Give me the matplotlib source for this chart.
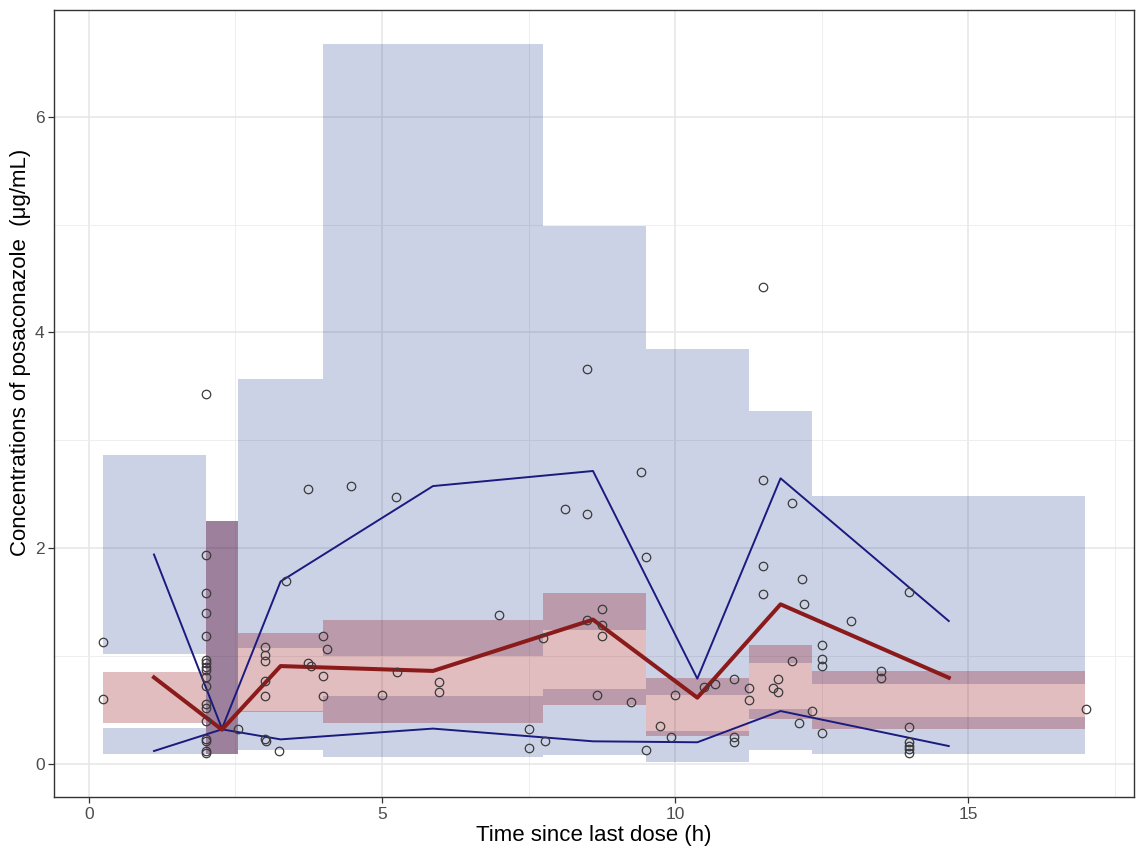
import matplotlib
matplotlib.use("Agg")
import matplotlib.pyplot as plt
from matplotlib.patches import Rectangle
from matplotlib.ticker import MultipleLocator

plt.rcParams['font.family'] = ['Liberation Sans', 'DejaVu Sans']

# ---- data ----
bin_edges = [0.24, 2.0, 2.55, 4.0, 7.75, 9.5, 11.26, 12.34, 17.0]
ci_p95_lo = [1.02, 0.087, 1.07, 0.995, 1.237, 0.637, 0.933, 0.736]
ci_p95_hi = [2.86, 2.25, 3.57, 6.68, 4.99, 3.85, 3.27, 2.48]
ci_p50_lo = [0.38, 0.087, 0.48, 0.377, 0.541, 0.256, 0.414, 0.325]
ci_p50_hi = [0.85, 2.25, 1.215, 1.336, 1.583, 0.791, 1.097, 0.859]
ci_p05_lo = [0.087, 0.087, 0.124, 0.061, 0.083, 0.019, 0.123, 0.086]
ci_p05_hi = [0.33, 2.25, 0.49, 0.627, 0.696, 0.302, 0.51, 0.432]

obs_bin_x = [1.11, 2.27, 3.27, 5.87, 8.6, 10.38, 11.8, 14.67]
obs_p50 = [0.80, 0.315, 0.905, 0.86, 1.336, 0.612, 1.478, 0.797]
obs_p95 = [1.94, 0.325, 1.69, 2.575, 2.715, 0.788, 2.647, 1.323]
obs_p05 = [0.117, 0.318, 0.225, 0.325, 0.207, 0.198, 0.488, 0.163]

obs_time = [0.24, 0.24,
            2.0, 2.0, 2.0, 2.0, 2.0, 2.0, 2.0, 2.0, 2.0, 2.0, 2.0, 2.0, 2.0, 2.0, 2.0, 2.0, 2.0, 2.0,
            2.55,
            3.0, 3.0, 3.0, 3.0, 3.0, 3.0, 3.02, 3.24, 3.37,
            3.74, 3.79, 3.74, 4.0, 4.07, 4.0, 4.0, 4.47,
            5.0, 5.25, 5.24, 5.97, 5.97,
            7.0, 7.5, 7.5, 7.75, 7.78, 8.13, 8.5, 8.5, 8.49,
            8.75, 8.75, 8.75, 8.66, 9.25, 9.42, 9.5, 9.5,
            9.75, 9.93, 10.0, 10.5, 10.68, 11.0, 11.0, 11.0, 11.26, 11.26,
            11.5, 11.5, 11.5, 11.5, 11.67, 11.76, 11.76, 12.0, 12.0, 12.12,
            12.17, 12.2, 12.33, 12.5, 12.5, 12.5, 12.5, 13.0, 13.51, 13.51,
            14.0, 14.0, 14.0, 14.0, 14.0, 14.0, 17.01]
obs_conc = [1.13, 0.60,
            3.43, 1.94, 1.58, 1.40, 1.18, 0.96, 0.93, 0.90, 0.87, 0.80, 0.72, 0.55, 0.52, 0.40,
            0.23, 0.21, 0.12, 0.10,
            0.32,
            1.08, 1.01, 0.95, 0.77, 0.63, 0.225, 0.213, 0.12, 1.69,
            2.545, 0.91, 0.935, 1.18, 1.06, 0.81, 0.63, 2.575,
            0.64, 0.85, 2.475, 0.757, 0.66,
            1.38, 0.318, 0.148, 1.165, 0.21, 2.36, 3.66, 2.32, 1.336,
            1.43, 1.29, 1.18, 0.633, 0.575, 2.71, 1.92, 0.126,
            0.35, 0.244, 0.634, 0.71, 0.742, 0.785, 0.247, 0.20, 0.705, 0.587,
            4.42, 2.635, 1.83, 1.57, 0.705, 0.788, 0.668, 2.42, 0.952, 0.377,
            1.71, 1.478, 0.492, 1.097, 0.974, 0.909, 0.287, 1.323, 0.859, 0.798,
            1.59, 0.34, 0.198, 0.165, 0.139, 0.102, 0.507]

x_label = "Time since last dose (h)"
y_label = "Concentrations of posaconazole  (\u03bcg/mL)"

# ---- style ----
blue_fill = (0.0, 0.12, 0.49)
blue_alpha = 0.2
red_fill = (0.55, 0.0, 0.03)
red_alpha = 0.26
navy = "#1a1a80"
darkred = "#8b1a1a"

fig = plt.figure(figsize=(11.39, 8.49), dpi=100)
ax = fig.add_axes([0.0477, 0.0612, 0.9479, 0.9268])
ax.set_xlim(-0.59, 17.83)
ax.set_ylim(-0.31, 6.99)

# grid
ax.xaxis.set_major_locator(MultipleLocator(5))
ax.xaxis.set_minor_locator(MultipleLocator(2.5))
ax.yaxis.set_major_locator(MultipleLocator(2))
ax.yaxis.set_minor_locator(MultipleLocator(1))
ax.set_axisbelow(True)
ax.grid(which="major", color="#e6e6e6", linewidth=1.1, zorder=0)
ax.grid(which="minor", color="#eeeeee", linewidth=0.7, zorder=0)

for i in range(len(bin_edges) - 1):
    x0, x1 = bin_edges[i], bin_edges[i + 1]
    for lo, hi, col, al in ((ci_p95_lo[i], ci_p95_hi[i], blue_fill, blue_alpha),
                            (ci_p05_lo[i], ci_p05_hi[i], blue_fill, blue_alpha),
                            (ci_p50_lo[i], ci_p50_hi[i], red_fill, red_alpha)):
        ax.add_patch(Rectangle((x0, lo), x1 - x0, hi - lo, facecolor=col,
                               alpha=al, edgecolor="none", zorder=1))

ax.plot(obs_bin_x, obs_p95, color=navy, lw=1.4, zorder=3)
ax.plot(obs_bin_x, obs_p05, color=navy, lw=1.4, zorder=3)
ax.plot(obs_bin_x, obs_p50, color=darkred, lw=2.9, zorder=3)

ax.plot(obs_time, obs_conc, linestyle="none", marker="o", markersize=6.1,
        markerfacecolor="none", markeredgecolor="#3a3a3a", markeredgewidth=0.9, zorder=4)

for s in ax.spines.values():
    s.set_color("#333333")
    s.set_linewidth(1.0)
ax.tick_params(which="major", length=4, width=0.9, color="#333333",
               labelsize=12.5, labelcolor="#4d4d4d", pad=3)
ax.tick_params(which="minor", length=0)

ax.set_xlabel(x_label, fontsize=16, color="black", labelpad=2)
ax.set_ylabel(y_label, fontsize=16, color="black", labelpad=5)
ax.yaxis.set_label_coords(-0.0215, 0.565)

fig.savefig("out.png", dpi=100)
